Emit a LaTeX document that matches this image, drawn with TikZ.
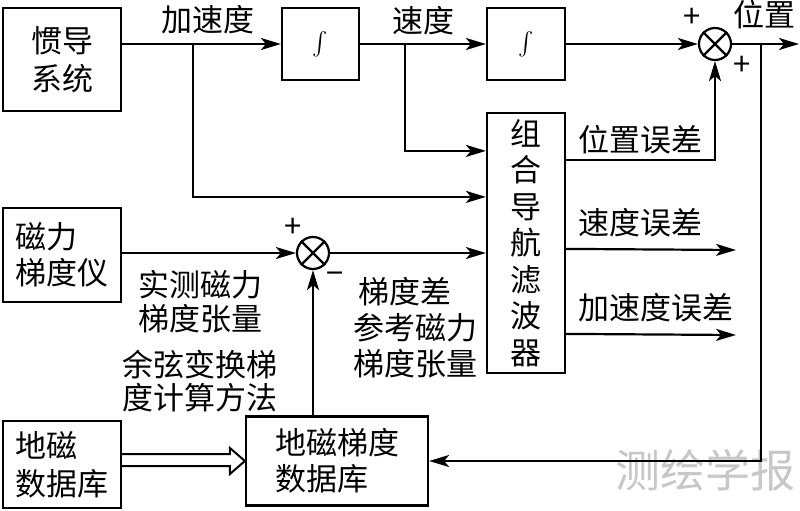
\documentclass[tikz,border=0pt]{standalone}
\usepackage{amsmath}
\usepackage{fontspec}
\newfontfamily\cjk{Noto Sans CJK SC}
\usetikzlibrary{arrows.meta,calc}
\begin{document}
\begin{tikzpicture}[x=1pt,y=-1pt,
  every node/.style={font=\cjk\fontsize{31}{36}\selectfont, inner sep=0pt},
  box/.style={draw, line width=2.2pt, align=left},
  arr/.style={line width=2.2pt, -{Stealth[length=20pt,width=12pt,inset=5pt]}},
  ln/.style={line width=2.2pt},
  sumj/.style={draw, circle, line width=2.2pt, minimum size=32pt},
  lbl/.style={align=left},
  sgn/.style={font=\cjk\fontsize{31}{31}\selectfont}
]
\useasboundingbox (0,0) rectangle (800,511);

% watermark
\node[text=black!22, font=\cjk\fontsize{45}{45}\selectfont] (wm) at (705,470) {测绘学报};

% boxes
\node[box, align=center, minimum width=118pt, minimum height=103pt, font=\cjk\fontsize{31}{38}\selectfont] (ins) at (62,59.5) {惯导\\系统};
\node[box, minimum width=77pt, minimum height=72pt, font=\normalfont] (int1) at (320.5,44) {\scalebox{2.3}{$\int$}};
\node[box, minimum width=78pt, minimum height=72pt, font=\normalfont] (int2) at (526,44) {\scalebox{2.3}{$\int$}};
\node[sumj] (s1) at (715,44) {};
\draw[ln] (s1.north west) -- (s1.south east) (s1.north east) -- (s1.south west);
\node[box, align=center, minimum width=78pt, minimum height=260pt, font=\cjk\fontsize{31}{36.5}\selectfont] (filt) at (526,243) {组\\合\\导\\航\\滤\\波\\器};
\node[box, minimum width=118pt, minimum height=94pt, font=\cjk\fontsize{31}{36}\selectfont] (mag) at (62,255) {磁力\\梯度仪};
\node[sumj] (s2) at (313,253) {};
\draw[ln] (s2.north west) -- (s2.south east) (s2.north east) -- (s2.south west);
\node[box, minimum width=118pt, minimum height=87pt, font=\cjk\fontsize{31}{38}\selectfont] (geo) at (62,464.5) {地磁\\数据库};
\node[box, minimum width=182pt, minimum height=89pt, font=\cjk\fontsize{31}{36}\selectfont] (gdb) at (337,461) {地磁梯度\\数据库};

% coordinates
\coordinate (out) at (799,44);
\coordinate (ba) at (193,44);
\coordinate (bv) at (405,44);
\coordinate (fb) at (761,44);
\coordinate (ve) at (736,250);
\coordinate (ae) at (736,335);

% top row
\draw[arr] (ins.east |- int1.west) -- (int1.west);
\draw[arr] (int1.east) -- (int2.west);
\draw[arr] (int2.east) -- (s1.west);
\draw[arr] (s1.east) -- (out);
\draw[arr] (ba) |- ($(filt.north west)+(0,85)$);
\draw[arr] (bv) |- ($(filt.north west)+(0,39)$);
\draw[arr] ($(filt.north east)+(0,48)$) -| (s1.south);
\draw[arr] ($(filt.north east)+(0,137)$) -- (ve);
\draw[arr] ($(filt.north east)+(0,222)$) -- (ae);
\draw[arr] (fb) |- (gdb.east);

% magnetic branch
\draw[arr] (mag.east |- s2.west) -- (s2.west);
\draw[arr] (s2.east) -- (filt.west |- s2.east);
\draw[arr] (gdb.north -| s2.south) -- (s2.south);

% double (hollow) arrow
\draw[line width=2pt, line join=miter]
  ($(geo.east |- gdb.west)+(0,-7)$) -- ($(gdb.west)+(-15,-7)$) -- ($(gdb.west)+(-15,-13)$)
  -- (gdb.west) -- ($(gdb.west)+(-15,13)$) -- ($(gdb.west)+(-15,5)$) -- ($(geo.east |- gdb.west)+(0,5)$);

% labels
\node (l1) at (208,20) {加速度};
\node (l2) at (423,21) {速度};
\node (l3) at (764,15) {位置};
\node[sgn] (p1) at (692,18) {+};
\node[sgn] (p2) at (742,66) {+};
\node (l4) at (640,140) {位置误差};
\node (l5) at (640,223) {速度误差};
\node (l6) at (656,308) {加速度误差};
\node[sgn] (p3) at (293,228) {+};
\node[sgn] (m3) at (335,278) {−};
\node[lbl, align=center, font=\cjk\fontsize{31}{34}\selectfont] (l7) at (200,302) {实测磁力\\梯度张量};
\node[lbl, align=center, font=\cjk\fontsize{31}{33}\selectfont] (l8) at (200,381) {余弦变换梯\\度计算方法};
\node[lbl, align=left, font=\cjk\fontsize{31}{36}\selectfont] (l9) at (415,328) {\hspace{5pt}梯度差\\参考磁力\\梯度张量};
\end{tikzpicture}
\end{document}
